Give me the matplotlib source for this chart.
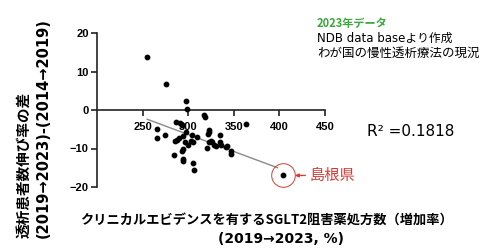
import matplotlib
matplotlib.use("Agg")
import matplotlib.pyplot as plt

plt.rcParams['font.family'] = ['Noto Sans CJK JP', 'DejaVu Sans']

# SGLT2 prescription increase (%) vs difference in dialysis growth rate, by prefecture
sglt2 = [255, 276, 298, 299, 317, 318, 363, 266, 275, 266,
         287, 291, 293, 288, 285.5, 290, 294.6, 297.5, 304, 302.6,
         305.4, 296.4, 294.6, 293, 284.5, 294.6, 294, 305.4, 306.2, 321.8,
         323.3, 322.6, 324.6, 326.5, 322.9, 320.4, 328.3, 330, 334.7, 335.4,
         336.5, 342.6, 341.5, 347.2, 347.2, 310, 300]
diff = [13.7, 6.7, 2.3, 0.2, -1.2, -1.8, -3.6, -4.9, -6.5, -7.4,
        -3.0, -3.4, -3.9, -7.7, -8.0, -7.4, -6.7, -5.8, -6.5, -8.0,
        -8.2, -8.4, -10.1, -10.6, -11.7, -12.6, -13.2, -13.8, -15.5, -6.2,
        -5.8, -5.1, -8.0, -8.4, -8.2, -9.9, -9.1, -9.4, -6.5, -8.2,
        -9.1, -9.3, -9.7, -10.6, -11.4, -7.0, -9.0]
shimane = (404, -17.0)
fit_x = [255, 398]
fit_y = [-2.4, -15.0]

xticks = [250, 300, 350, 400, 450]
yticks = [-20, -10, 0, 10, 20]
red = '#d83a34'
latin = ['DejaVu Sans', 'Noto Sans CJK JP']

fig = plt.figure(figsize=(5, 2.5), dpi=100)
ax = fig.add_axes([0.194, 0.252, 0.456, 0.616])

ax.plot(fit_x, fit_y, color='#8a8a8a', lw=1)
ax.scatter(sglt2, diff, s=10, color='black', zorder=3)
ax.scatter([shimane[0]], [shimane[1]], s=10, color='black', zorder=3)
ax.plot([shimane[0]], [shimane[1]], 'o', ms=17, mfc='none', mec=red, mew=0.7)
ax.annotate('島根県', xy=shimane, xytext=(19, 0), textcoords='offset points',
            color=red, fontsize=11, va='center', ha='left',
            arrowprops=dict(arrowstyle='-|>', color=red, lw=1, shrinkA=1,
                            shrinkB=8.5, mutation_scale=5))

ax.set_xlim(200, 450)
ax.set_ylim(-20, 20)
ax.spines['top'].set_visible(False)
ax.spines['right'].set_visible(False)
ax.spines['bottom'].set_position(('data', 0))
for s in ['left', 'bottom']:
    ax.spines[s].set_linewidth(1.2)
    ax.spines[s].set_color('#222222')
ax.set_xticks(xticks)
ax.set_yticks(yticks)
ax.tick_params(axis='x', length=4, width=1.2, pad=5, color='#222222')
ax.tick_params(axis='y', length=4, width=1.2, pad=2, color='#222222')
for lab in ax.get_xticklabels() + ax.get_yticklabels():
    lab.set_fontweight('bold')
    lab.set_fontsize(8)
    lab.set_family('Liberation Sans')
ax.patch.set_alpha(0)

# axis titles
fig.text(23/500, 0.048, '透析患者数伸び率の差', rotation=90, fontsize=10.5,
         fontweight='bold', ha='center', va='bottom')
fig.text(43/500, 0.048, '(2019→2023)-(2014→2019)', rotation=90, fontsize=10.5,
         fontweight='bold', ha='center', va='bottom', family=latin)
fig.text(266/500, 1-220/250, 'クリニカルエビデンスを有するSGLT2阻害薬処方数（増加率）',
         fontsize=9.5, fontweight='bold', ha='center', va='center')
fig.text(281/500, 1-239/250, '(2019→2023, %)', fontsize=10, fontweight='bold',
         ha='center', va='center', family=latin)

fig.text(367/500, 1-132/250, 'R² =0.1818', fontsize=11, va='center', family=latin)
fig.text(317/500, 1-23/250, '2023年データ', fontsize=8, fontweight='bold',
         color='#3aa83a', va='center')
fig.text(317/500, 1-38/250, 'NDB data baseより作成', fontsize=8.5, va='center',
         family=latin)
fig.text(317/500, 1-53/250, 'わが国の慢性透析療法の現況', fontsize=9, va='center')

fig.savefig('out.png', dpi=100)
